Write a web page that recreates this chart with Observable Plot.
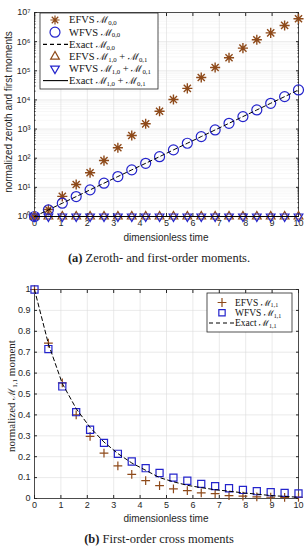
<!DOCTYPE html>
<html><head><meta charset="utf-8">
<script src="https://cdn.jsdelivr.net/npm/d3@7"></script>
<script src="https://cdn.jsdelivr.net/npm/@observablehq/plot@0.6"></script>
<style>
body{margin:0;background:#fff;}
#wrap{position:relative;width:308px;height:550px;overflow:hidden;background:#fff;}
#wrap > svg{position:absolute;left:0;}
.cap{position:absolute;left:0;width:318px;text-align:center;font-family:"Liberation Serif",serif;font-size:12.5px;color:#222;white-space:nowrap;}
</style></head>
<body><div id="wrap"></div>
<script>
// ---------- data ----------
const time = [0, 0.526, 1.053, 1.579, 2.105, 2.632, 3.158, 3.684, 4.211, 4.737, 5.263, 5.789, 6.316, 6.842, 7.368, 7.895, 8.421, 8.947, 9.474, 10];
// (a) zeroth and first moments
const efvsM00 = [1, 1.74, 4.9, 12.5, 31.6, 83, 228, 603, 1515, 4100, 10300, 25000, 59000, 130000, 280000, 600000, 1160000, 2000000, 3600000, 6100000];
const wfvsM00 = [1, 1.69, 2.86, 4.83, 8.2, 13.9, 23.5, 39.8, 67, 113, 193, 326, 552, 935, 1580, 2680, 4530, 7670, 12970, 22000];
const exactM00 = [1, 1.69, 2.86, 4.83, 8.2, 13.9, 23.5, 39.8, 67, 113, 193, 326, 552, 935, 1580, 2680, 4530, 7670, 12970, 22000];
const efvsM10 = [1, 1, 1, 1, 1, 1, 1, 1, 1, 1, 1, 1, 1, 1, 1, 1, 1, 1, 1, 1];
const wfvsM10 = [1, 1, 1, 1, 1, 1, 1, 1, 1, 1, 1, 1, 1, 1, 1, 1, 1, 1, 1, 1];
const exactM10 = [1, 1, 1, 1, 1, 1, 1, 1, 1, 1, 1, 1, 1, 1, 1, 1, 1, 1, 1, 1];
// (b) first-order cross moments
const efvsM11 = [1, 0.743, 0.553, 0.40, 0.297, 0.217, 0.156, 0.115, 0.086, 0.062, 0.046, 0.038, 0.027, 0.023, 0.014, 0.011, 0.008, 0.006, 0.005, 0.005];
const wfvsM11 = [1, 0.715, 0.536, 0.413, 0.329, 0.266, 0.214, 0.177, 0.145, 0.122, 0.100, 0.085, 0.070, 0.059, 0.049, 0.041, 0.035, 0.030, 0.027, 0.024];
const exactM11 = [1, 0.74, 0.55, 0.43, 0.34, 0.27, 0.215, 0.17, 0.135, 0.10, 0.08, 0.063, 0.052, 0.042, 0.035, 0.027, 0.021, 0.014, 0.010, 0.006];
// ticks / labels
const xTicks = [0, 1, 2, 3, 4, 5, 6, 7, 8, 9, 10];
const yTicksA = [1, 10, 100, 1000, 10000, 100000, 1000000, 10000000];
const yTicksB = [0, 0.1, 0.2, 0.3, 0.4, 0.5, 0.6, 0.7, 0.8, 0.9, 1];
const legendA = ["EFVS ℳ_{0,0}", "WFVS ℳ_{0,0}", "Exact ℳ_{0,0}", "EFVS ℳ_{1,0} + ℳ_{0,1}", "WFVS ℳ_{1,0} + ℳ_{0,1}", "Exact ℳ_{1,0} + ℳ_{0,1}"];
const legendB = ["EFVS ℳ_{1,1}", "WFVS ℳ_{1,1}", "Exact ℳ_{1,1}"];
const xLabel = "dimensionless time";
const yLabelA = "normalized zeroth and first moments";
const yLabelB = "normalized ℳ_{1,1} moment";
const captionA = ["(a)", " Zeroth- and first-order moments."];
const captionB = ["(b)", " First-order cross moments"];

// ---------- style ----------
const BROWN = "#8e4a1a", BLUE = "#2424cc", INK = "#262626";
const star8 = {draw(ctx, size) {
  const r = Math.sqrt(size) * 0.62, d = r * Math.SQRT1_2;
  ctx.moveTo(-r, 0); ctx.lineTo(r, 0); ctx.moveTo(0, -r); ctx.lineTo(0, r);
  ctx.moveTo(-d, -d); ctx.lineTo(d, d); ctx.moveTo(-d, d); ctx.lineTo(d, -d);
}};
const triDown = {draw(ctx, size) {
  const R = Math.sqrt(size) * 0.66, s = R * Math.sqrt(3) / 2;
  ctx.moveTo(0, R); ctx.lineTo(-s, -R / 2); ctx.lineTo(s, -R / 2); ctx.closePath();
}};
const triUp = {draw(ctx, size) {
  const R = Math.sqrt(size) * 0.66, s = R * Math.sqrt(3) / 2;
  ctx.moveTo(0, -R); ctx.lineTo(-s, R / 2); ctx.lineTo(s, R / 2); ctx.closePath();
}};
const plusSym = {draw(ctx, size) {
  const r = Math.sqrt(size) * 0.62;
  ctx.moveTo(-r, 0); ctx.lineTo(r, 0); ctx.moveTo(0, -r); ctx.lineTo(0, r);
}};
const squareSym = {draw(ctx, size) {
  const h = Math.sqrt(size) * 0.5;
  ctx.rect(-h, -h, 2 * h, 2 * h);
}};

const rows = (ys) => time.map((t, i) => ({t, v: ys[i]}));
const minorA = d3.range(0, 7).flatMap(e => d3.range(2, 10).map(k => k * Math.pow(10, e)));
const supDigits = {"0":"⁰","1":"¹","2":"²","3":"³","4":"⁴","5":"⁵","6":"⁶","7":"⁷","8":"⁸","9":"⁹"};
const powFmt = d => "10" + String(Math.round(Math.log10(d))).split("").map(c => supDigits[c]).join("");

const wrap = document.getElementById("wrap");
const common = {width: 308, marginLeft: 34, marginRight: 10, marginTop: 12, marginBottom: 32,
  style: {fontFamily: "'Liberation Sans', Arial, sans-serif", fontSize: "9px", color: INK, background: "transparent"}};
const gridStyle = {stroke: "#dcdcdc", strokeOpacity: 1, strokeWidth: 0.6};
const minorStyle = {stroke: "#eeeeee", strokeOpacity: 1, strokeWidth: 0.5};

// ---------- chart (a) ----------
const chartA = Plot.plot({
  ...common, height: 248,
  x: {domain: [0, 10]},
  y: {type: "log", domain: [1, 1e7]},
  marks: [
    Plot.gridY(minorA, minorStyle),
    Plot.gridY(yTicksA, gridStyle),
    Plot.gridX(xTicks, gridStyle),
    Plot.axisX(xTicks, {tickSize: 0, tickPadding: 3, label: null, tickFormat: d => String(d)}),
    Plot.axisY(yTicksA, {tickSize: 0, tickPadding: 4, label: null, tickFormat: powFmt}),
    Plot.axisX(xTicks, {anchor: "bottom", tickSize: -3, tickFormat: () => "", label: null, stroke: INK}),
    Plot.axisX(xTicks, {anchor: "top", tickSize: -3, tickFormat: () => "", label: null, stroke: INK}),
    Plot.axisY(yTicksA, {anchor: "left", tickSize: -3, tickFormat: () => "", label: null, stroke: INK}),
    Plot.axisY(yTicksA, {anchor: "right", tickSize: -3, tickFormat: () => "", label: null, stroke: INK}),
    Plot.axisY(minorA, {anchor: "left", tickSize: -1.5, tickFormat: () => "", label: null, stroke: INK}),
    Plot.axisY(minorA, {anchor: "right", tickSize: -1.5, tickFormat: () => "", label: null, stroke: INK}),
    Plot.frame({stroke: INK, strokeWidth: 0.8}),
    Plot.dot(rows(efvsM00), {x: "t", y: "v", symbol: star8, r: 4.6, stroke: BROWN, strokeWidth: 1.4, fill: "none"}),
    Plot.dot(rows(wfvsM00), {x: "t", y: "v", symbol: "circle", r: 5, stroke: BLUE, strokeWidth: 1.2, fill: "none"}),
    Plot.line(rows(exactM00), {x: "t", y: "v", stroke: "#000", strokeWidth: 1, strokeDasharray: "4,3"}),
    Plot.dot(rows(efvsM10), {x: "t", y: "v", symbol: triUp, r: 4.3, stroke: BROWN, strokeWidth: 1.2, fill: "none"}),
    Plot.dot(rows(wfvsM10), {x: "t", y: "v", symbol: triDown, r: 4.3, stroke: BLUE, strokeWidth: 1.2, fill: "none"}),
    Plot.line(rows(exactM10), {x: "t", y: "v", stroke: "#000", strokeWidth: 1.2})
  ]
});
chartA.style.top = "0px";
wrap.appendChild(chartA);

// ---------- chart (b) ----------
const chartB = Plot.plot({
  ...common, height: 253,
  x: {domain: [0, 10]},
  y: {domain: [0, 1]},
  marks: [
    Plot.gridY(yTicksB, gridStyle),
    Plot.gridX(xTicks, gridStyle),
    Plot.axisX(xTicks, {tickSize: 0, tickPadding: 3, label: null, tickFormat: d => String(d)}),
    Plot.axisY(yTicksB, {tickSize: 0, tickPadding: 4, label: null, tickFormat: d3.format("~g")}),
    Plot.axisX(xTicks, {anchor: "bottom", tickSize: -3, tickFormat: () => "", label: null, stroke: INK}),
    Plot.axisX(xTicks, {anchor: "top", tickSize: -3, tickFormat: () => "", label: null, stroke: INK}),
    Plot.axisY(yTicksB, {anchor: "left", tickSize: -3, tickFormat: () => "", label: null, stroke: INK}),
    Plot.axisY(yTicksB, {anchor: "right", tickSize: -3, tickFormat: () => "", label: null, stroke: INK}),
    Plot.frame({stroke: INK, strokeWidth: 0.8}),
    Plot.dot(rows(efvsM11), {x: "t", y: "v", symbol: plusSym, r: 4, stroke: BROWN, strokeWidth: 1.2, fill: "none"}),
    Plot.dot(rows(wfvsM11), {x: "t", y: "v", symbol: squareSym, r: 4, stroke: BLUE, strokeWidth: 1.2, fill: "none"}),
    Plot.line(rows(exactM11), {x: "t", y: "v", stroke: "#000", strokeWidth: 1, strokeDasharray: "4,3"})
  ]
});
chartB.style.top = "277px";
wrap.appendChild(chartB);

// ---------- captions ----------
function caption(parts, top) {
  const d = document.createElement("div");
  d.className = "cap"; d.style.top = top + "px";
  const b = document.createElement("b"); b.textContent = parts[0];
  d.appendChild(b); d.appendChild(document.createTextNode(parts[1]));
  wrap.appendChild(d);
}
caption(captionA, 251);
caption(captionB, 532);

// ---------- overlay: labels & legends ----------
const ov = d3.select(wrap).append("svg").attr("width", 308).attr("height", 550)
  .style("position", "absolute").style("top", "0px").style("left", "0px").style("pointer-events", "none");

function richText(sel, str, fs) {
  const parts = str.split(/(_\{[^}]*\}|ℳ)/).filter(s => s.length);
  let shift = 0;
  const sub = fs * 0.18;
  for (const p of parts) {
    const m = p.match(/^_\{([^}]*)\}$/);
    let ts;
    if (m) {
      ts = sel.append("tspan").attr("font-size", fs * 0.64).text(m[1]);
      ts.attr("dy", sub - shift); shift = sub;
    } else if (p === "ℳ") {
      ts = sel.append("tspan").attr("font-family", "'DejaVu Serif', serif").attr("font-size", fs * 0.92).text(p);
      if (shift) { ts.attr("dy", -shift); shift = 0; }
    } else {
      ts = sel.append("tspan").text(p);
      if (shift) { ts.attr("dy", -shift); shift = 0; }
    }
  }
}

const SERIF = "'Liberation Serif', 'DejaVu Serif', serif";
const SANS = "'Liberation Sans', Arial, sans-serif";
// x labels
ov.append("text").attr("x", 166).attr("y", 240.5).attr("text-anchor", "middle")
  .attr("font-family", SANS).attr("font-size", 10).attr("fill", INK).text(xLabel);
ov.append("text").attr("x", 166).attr("y", 521.5).attr("text-anchor", "middle")
  .attr("font-family", SANS).attr("font-size", 10).attr("fill", INK).text(xLabel);
// y labels
ov.append("text").attr("transform", "translate(11.5,112) rotate(-90)").attr("text-anchor", "middle")
  .attr("font-family", SANS).attr("font-size", 10).attr("fill", INK).text(yLabelA);
{
  const t = ov.append("text").attr("transform", "translate(15,396) rotate(-90)").attr("text-anchor", "middle")
    .attr("font-family", SERIF).attr("font-size", 11).attr("fill", INK);
  richText(t, yLabelB, 11);
}

function legend(cfg) {
  const g = ov.append("g");
  g.append("rect").attr("x", cfg.left).attr("y", cfg.top).attr("width", cfg.width).attr("height", cfg.height)
    .attr("fill", "#fff").attr("stroke", INK).attr("stroke-width", 0.8);
  cfg.items.forEach((it, i) => {
    const y = cfg.rowY[i];
    if (it.line) {
      g.append("line").attr("x1", cfg.lineX[0]).attr("x2", cfg.lineX[1]).attr("y1", y).attr("y2", y)
        .attr("stroke", "#000").attr("stroke-width", 1.1).attr("stroke-dasharray", it.dash || null);
    }
    if (it.symbol) {
      g.append("path").attr("transform", `translate(${cfg.markerX},${y})`)
        .attr("d", d3.symbol(it.symbol, it.size)())
        .attr("fill", "none").attr("stroke", it.color).attr("stroke-width", 1.2);
    }
    const t = g.append("text").attr("x", cfg.textX).attr("y", y).attr("dy", "0.32em")
      .attr("font-family", SERIF).attr("font-size", cfg.fs).attr("fill", "#111");
    richText(t, it.label, cfg.fs);
  });
}
legend({left: 40, top: 13, width: 118, height: 76, rowY: [20, 32.2, 44.4, 56.6, 68.6, 80.6], markerX: 55, lineX: [43, 68], textX: 69, fs: 10.5,
  items: [
    {label: legendA[0], symbol: star8, size: 55, color: BROWN},
    {label: legendA[1], symbol: d3.symbolCircle, size: 78, color: BLUE},
    {label: legendA[2], line: true, dash: "4,3"},
    {label: legendA[3], symbol: triUp, size: 58, color: BROWN},
    {label: legendA[4], symbol: triDown, size: 58, color: BLUE},
    {label: legendA[5], line: true}
  ]});
legend({left: 207, top: 293, width: 85, height: 39, rowY: [302.5, 312.8, 323], markerX: 222, lineX: [209, 234], textX: 235, fs: 9.5,
  items: [
    {label: legendB[0], symbol: plusSym, size: 50, color: BROWN},
    {label: legendB[1], symbol: squareSym, size: 40, color: BLUE},
    {label: legendB[2], line: true, dash: "4,3"}
  ]});
</script>
</body></html>
